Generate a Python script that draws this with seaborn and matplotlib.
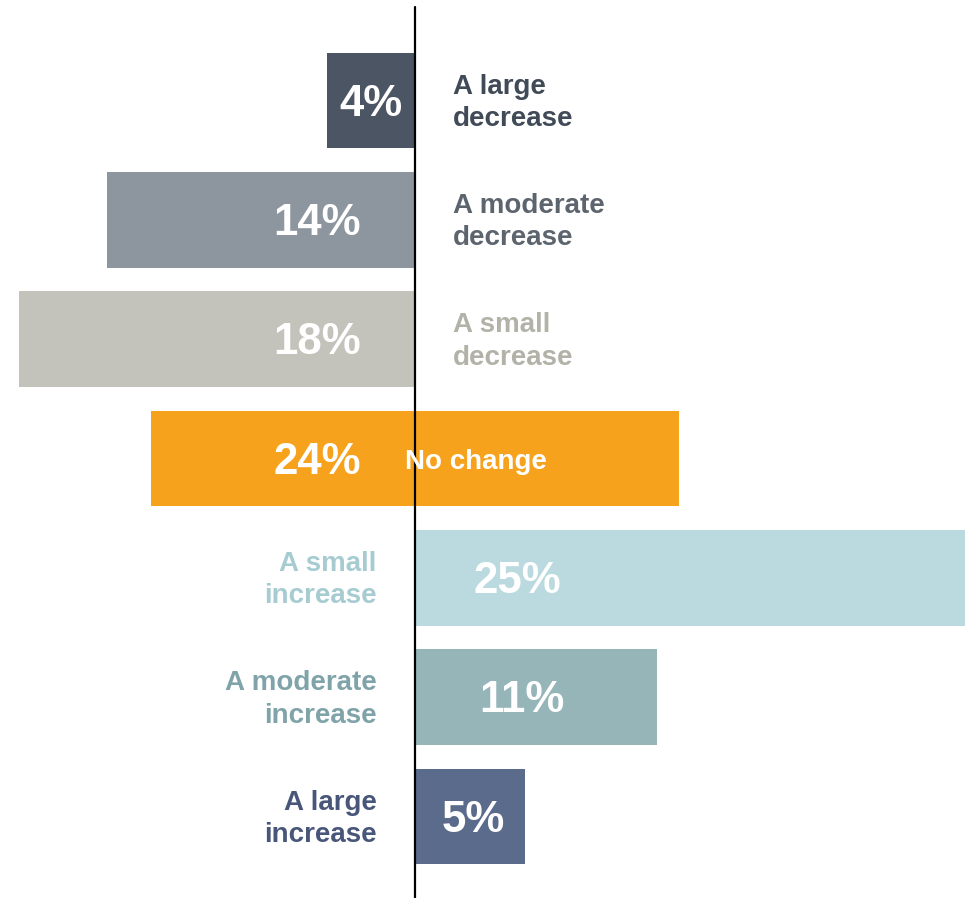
import matplotlib
matplotlib.use("Agg")
import matplotlib.pyplot as plt
import seaborn as sns
import pandas as pd

# Survey responses: share of respondents per expected change
categories = ["A large decrease", "A moderate decrease", "A small decrease", "No change",
              "A small increase", "A moderate increase", "A large increase"]
label_lines = ["A large\ndecrease", "A moderate\ndecrease", "A small\ndecrease", "No change",
               "A small\nincrease", "A moderate\nincrease", "A large\nincrease"]
shares = [4, 14, 18, 24, 25, 11, 5]
direction = ["down", "down", "down", "none", "up", "up", "up"]

bar_colors = ["#4b5563", "#8d959f", "#c4c3bb", "#f7a21d", "#bbdadf", "#95b5b9", "#5b6b8c"]
text_colors = ["#414b58", "#5c646e", "#b3b2a8", "#ffffff", "#a6ccd2", "#7fa3a8", "#48567a"]

# Split each bar into a left part and a right part around zero
left_part = [-s if d == "down" else (-s / 2 if d == "none" else 0) for s, d in zip(shares, direction)]
right_part = [s if d == "up" else (s / 2 if d == "none" else 0) for s, d in zip(shares, direction)]

df = pd.DataFrame({"category": categories, "left": left_part, "right": right_part})
palette = dict(zip(categories, bar_colors))

sns.set_style("white")
plt.rcParams["font.family"] = ["Liberation Sans", "DejaVu Sans"]

fig = plt.figure(figsize=(9.68, 8.98), dpi=100)
ax = fig.add_axes([0, 0, 1, 1])

for col in ["left", "right"]:
    sns.barplot(data=df, x=col, y="category", hue="category", palette=palette,
                order=categories, hue_order=categories, dodge=False, legend=False,
                width=0.8, saturation=1, linewidth=0, ax=ax)

ax.set_xlim(-18.86, 25.14)
ax.set_ylim(6.683, -0.842)
ax.axvline(0, ymin=0, ymax=0.992, color="black", linewidth=1.6, zorder=5)

pct_size = 31.5
lab_size = 20
dy_pct = 0.03
dy_lab = 0.02
for i, (s, d, lab, tc) in enumerate(zip(shares, direction, label_lines, text_colors)):
    pct = f"{s}%"
    if d == "down":
        px = -0.55 if s < 8 else -2.45
        ax.text(px, i + dy_pct, pct, ha="right", va="center", color="white",
                fontsize=pct_size, fontweight="bold", zorder=6)
        ax.text(1.73, i + dy_lab, lab, ha="left", va="center", color=tc,
                fontsize=lab_size, fontweight="bold", linespacing=1.32, zorder=6)
    elif d == "none":
        ax.text(-2.45, i + dy_pct, pct, ha="right", va="center", color="white",
                fontsize=pct_size, fontweight="bold", zorder=6)
        ax.text(-0.45, i + dy_pct, lab, ha="left", va="center", color=tc,
                fontsize=lab_size, fontweight="bold", zorder=6)
    else:
        px = {25: 4.64, 11: 4.86, 5: 2.64}.get(s, s / 2)
        ax.text(px, i + dy_pct, pct, ha="center", va="center", color="white",
                fontsize=pct_size, fontweight="bold", zorder=6)
        ax.text(-1.73, i + dy_lab, lab, ha="right", va="center", color=tc,
                fontsize=lab_size, fontweight="bold", linespacing=1.32, zorder=6)

ax.set_axis_off()
fig.savefig("out.png", dpi=100)
